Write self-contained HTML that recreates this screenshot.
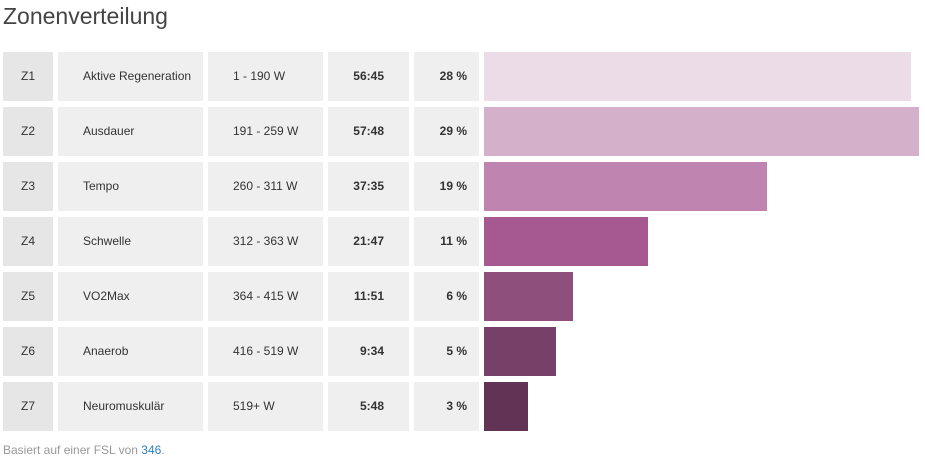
<!DOCTYPE html>
<html><head><meta charset="utf-8"><style>
body{margin:0;width:925px;height:464px;background:#fff;font-family:"Liberation Sans",sans-serif;position:relative;overflow:hidden;color:#333}
.t{position:absolute;left:3px;top:1px;font-size:23px;font-weight:300;color:#444;line-height:30px}
.c{position:absolute;height:49px;background:#efefef;font-size:12px;line-height:49px}
.z{background:#e6e6e6;text-align:center}
.b{font-weight:bold}
.f{position:absolute;left:3px;top:443px;font-size:12px;color:#999}
.f span{color:#2a7fc0}
</style></head><body>
<div class="t">Zonenverteilung</div>
<div id="r"></div>
<div class="f">Basiert auf einer FSL von <span>346</span>.</div>
<script>
var d=[["Z1","Aktive Regeneration","1 - 190 W","56:45","28 %",911,"#ecdce8"],
["Z2","Ausdauer","191 - 259 W","57:48","29 %",919,"#d5b0cb"],
["Z3","Tempo","260 - 311 W","37:35","19 %",767,"#bf85b0"],
["Z4","Schwelle","312 - 363 W","21:47","11 %",648,"#a65990"],
["Z5","VO2Max","364 - 415 W","11:51","6 %",573,"#8f4f7d"],
["Z6","Anaerob","416 - 519 W","9:34","5 %",556,"#764068"],
["Z7","Neuromuskulär","519+ W","5:48","3 %",528,"#633355"]];
var h="";
d.forEach(function(r,i){var y=52+55*i;
h+='<div class="c z" style="left:3px;width:50px;top:'+y+'px">'+r[0]+'</div>';
h+='<div class="c" style="left:58px;width:120px;padding-left:25px;top:'+y+'px">'+r[1]+'</div>';
h+='<div class="c" style="left:208px;width:90px;padding-left:25px;top:'+y+'px">'+r[2]+'</div>';
h+='<div class="c b" style="left:328px;width:56px;padding-right:25px;text-align:right;top:'+y+'px">'+r[3]+'</div>';
h+='<div class="c b" style="left:414px;width:53px;padding-right:12px;text-align:right;top:'+y+'px">'+r[4]+'</div>';
h+='<div class="c" style="left:484px;width:'+(r[5]-484)+'px;background:'+r[6]+';top:'+y+'px"></div>';});
document.getElementById("r").innerHTML=h;
</script>
</body></html>
